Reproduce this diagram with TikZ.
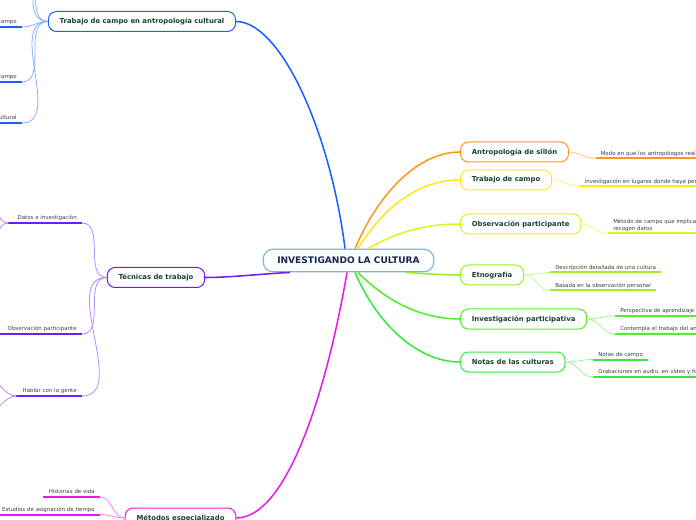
\documentclass[tikz,border=0pt]{standalone}
\usepackage{fontspec}
\setmainfont{DejaVu Sans}
\usepackage{tikz}
\definecolor{cazul}{RGB}{30, 94, 255}
\definecolor{cazulc}{RGB}{140, 175, 255}
\definecolor{cmorado}{RGB}{112, 26, 255}
\definecolor{cmoradoc}{RGB}{180, 140, 255}
\definecolor{cmagenta}{RGB}{232, 26, 232}
\definecolor{cmagentac}{RGB}{242, 130, 242}
\definecolor{cnaranja}{RGB}{255, 152, 26}
\definecolor{cnaranjac}{RGB}{255, 200, 130}
\definecolor{camarillo}{RGB}{255, 232, 26}
\definecolor{camarilloc}{RGB}{255, 240, 130}
\definecolor{clima}{RGB}{220, 245, 26}
\definecolor{climac}{RGB}{235, 250, 130}
\definecolor{cverdel}{RGB}{150, 240, 40}
\definecolor{cverdelc}{RGB}{200, 248, 150}
\definecolor{cverde}{RGB}{80, 240, 40}
\definecolor{cverdec}{RGB}{165, 245, 140}
\definecolor{cverdeo}{RGB}{50, 235, 60}
\definecolor{cverdeoc}{RGB}{150, 245, 155}
\definecolor{ccentro}{RGB}{126, 182, 230}
\definecolor{ctexto}{RGB}{22, 66, 50}
\definecolor{cnavy}{RGB}{20, 40, 80}
\definecolor{cgris}{RGB}{60, 60, 60}
\newcommand{\subraya}[2]{\draw[raya=#1] (#2.south west) -- (#2.south east);}
\tikzset{
  centro/.style={draw=ccentro, line width=0.9pt, fill=white, rounded corners=7.5pt,
    minimum width=128pt, minimum height=17pt, text=cnavy,
    font=\bfseries\fontsize{6.8}{8}\selectfont},
  rama/.style={draw=#1, line width=0.75pt, fill=white, rounded corners=6pt,
    minimum height=15pt, inner xsep=8.5pt, text=ctexto,
    font=\bfseries\fontsize{5.15}{6}\selectfont},
  hoja/.style={text=cgris, inner xsep=3.75pt, inner ysep=1.4pt,
    text height=3.1pt, text depth=1pt, font=\fontsize{4.1}{4.7}\selectfont},
  tallo/.style={draw=#1, line width=1.15pt},
  ramita/.style={draw=#1, line width=0.6pt},
  raya/.style={draw=#1, line width=1.5pt}
}

\begin{document}
\begin{tikzpicture}[x=0.75pt, y=-0.75pt]
  \useasboundingbox (0,0) rectangle (696,520);
  \clip (0,0) rectangle (696,520);
  \node[centro] (c) at (348.5,260.5) {INVESTIGANDO LA CULTURA};
  \node[rama=cazul] (t1) at (142,21.5) {Trabajo de campo en antropología cultural};
  \node[rama=cmorado] (t2) at (156,277.5) {Técnicas de trabajo};
  \node[rama=cmagenta] (t3) at (180.5,518) {Métodos especializado};
  \node[rama=cnaranja, anchor=west] (r1) at (460,152) {Antropología de sillón};
  \node[rama=camarillo, anchor=west] (r2) at (460,180) {Trabajo de campo};
  \node[rama=clima, anchor=west] (r3) at (460,224) {Observación participante};
  \node[rama=cverdel, anchor=west] (r4) at (460,275) {Etnografía};
  \node[rama=cverde, anchor=west] (r5) at (460,319) {Investigación participativa};
  \node[rama=cverdeo, anchor=west] (r6) at (460,362) {Notas de las culturas};
  \draw[tallo=cazul] ([xshift=-2.6pt]c.north) .. controls (330,130) and (280,21.5) .. (t1.east);
  \draw[tallo=cmorado] ([xshift=-44pt]c.south) .. controls (260,274) and (230,277.5) .. (t2.east);
  \draw[tallo=cmagenta] ([xshift=-1.1pt]c.south) .. controls (325,400) and (285,518) .. (t3.east);
  \draw[tallo=cnaranja] ([xshift=4.9pt]c.north) .. controls (380,190) and (420,152) .. (r1.west);
  \draw[tallo=camarillo] ([xshift=7.1pt]c.north) .. controls (385,205) and (420,180) .. (r2.west);
  \draw[tallo=clima] ([xshift=14.6pt]c.north) .. controls (400,230) and (430,224) .. (r3.west);
  \draw[tallo=cverdel] ([xshift=42.4pt]c.south) .. controls (430,274) and (445,275) .. (r4.west);
  \draw[tallo=cverde] ([xshift=7.1pt]c.south) .. controls (385,300) and (420,319) .. (r5.west);
  \draw[tallo=cverdeo] ([xshift=4.9pt]c.south) .. controls (375,320) and (415,362) .. (r6.west);
  \node[hoja, anchor=south east, text width=45pt, align=right] (h1) at (22,27) {campo};
  \node[hoja, anchor=south east, text width=45pt, align=right] (h2) at (22,82) {campo};
  \node[hoja, anchor=south east, text width=45pt, align=right] (h3) at (22,123) {cultural};
  \coordinate (h0a) at (22,-30);
  \coordinate (h0b) at (22,-70);
  \node[hoja, anchor=south east, text width=47.25pt, align=right] (h4) at (82,223) {Datos e investigación};
  \node[hoja, anchor=south east, text width=60pt, align=right] (h5) at (82,334) {Observación participante};
  \node[hoja, anchor=south east, text width=41.25pt, align=right] (h6) at (82,396) {Hablar con la gente};
  \coordinate (h4a) at (-15,180);
  \coordinate (h4b) at (-15,265);
  \coordinate (h6a) at (-12,380);
  \coordinate (h6b) at (-12,411);
  \node[hoja, anchor=south east, text width=34.5pt, align=right] (h7) at (100,497) {Historias de vida};
  \node[hoja, anchor=south east, text width=75pt, align=right] (h8) at (100,514.5) {Estudios de asignación de tiempo};
  \node[hoja, anchor=south west, text width=90pt, align=left] (s1) at (595.5,158.5) {Modo en que los antropólogos real};
  \node[hoja, anchor=south west, text width=90pt, align=left] (s2) at (579.5,186.5) {Investigación en lugares donde haya per};
  \node[hoja, anchor=south west, text width=90pt, align=left, text depth=5.7pt] (s3) at (608,233.5) {Método de campo que implica\\recogen datos};
  \node[hoja, anchor=south west] (s4) at (550,272.5) {Descripción detallada de una cultura};
  \node[hoja, anchor=south west] (s5) at (550,290.5) {Basada en la observación personal};
  \node[hoja, anchor=south west, text width=90pt, align=left] (s6) at (615,316) {Perspectiva de aprendizaje};
  \node[hoja, anchor=south west, text width=90pt, align=left] (s7) at (615,334) {Contempla el trabajo del an};
  \node[hoja, anchor=south west] (s8) at (593,359.5) {Notas de campo};
  \node[hoja, anchor=south west, text width=90pt, align=left] (s9) at (593,377) {Grabaciones en audio, en vídeo y fo};
  \foreach \h in {h1,h2,h3} {\subraya{cazul}{\h}}
  \foreach \h in {h4,h5,h6} {\subraya{cmorado}{\h}}
  \foreach \h in {h7,h8} {\subraya{cmagenta}{\h}}
  \subraya{cnaranja}{s1}
  \subraya{camarillo}{s2}
  \subraya{clima}{s3}
  \foreach \h in {s4,s5} {\subraya{cverdel}{\h}}
  \foreach \h in {s6,s7} {\subraya{cverde}{\h}}
  \foreach \h in {s8,s9} {\subraya{cverdeo}{\h}}
  \foreach \h in {h0a,h0b} {\draw[ramita=cazulc] (t1.west) to[out=180, in=0] (\h);}
  \foreach \h in {h1,h2,h3} {\draw[ramita=cazulc] (t1.west) to[out=180, in=0] (\h.south east);}
  \foreach \h in {h4,h5,h6} {\draw[ramita=cmoradoc] (t2.west) to[out=180, in=0] (\h.south east);}
  \foreach \h in {h4a,h4b} {\draw[ramita=cmoradoc] (h4.south west) to[out=180, in=0] (\h);}
  \foreach \h in {h6a,h6b} {\draw[ramita=cmoradoc] (h6.south west) to[out=180, in=0] (\h);}
  \foreach \h in {h7,h8} {\draw[ramita=cmagentac] (t3.west) to[out=180, in=0] (\h.south east);}
  \draw[ramita=cnaranjac] (r1.east) to[out=0, in=180] (s1.south west);
  \draw[ramita=camarilloc] (r2.east) to[out=0, in=180] (s2.south west);
  \draw[ramita=climac] (r3.east) to[out=0, in=180] (s3.south west);
  \foreach \h in {s4,s5} {\draw[ramita=cverdelc] (r4.east) to[out=0, in=180] (\h.south west);}
  \foreach \h in {s6,s7} {\draw[ramita=cverdec] (r5.east) to[out=0, in=180] (\h.south west);}
  \foreach \h in {s8,s9} {\draw[ramita=cverdeoc] (r6.east) to[out=0, in=180] (\h.south west);}
\end{tikzpicture}
\end{document}
